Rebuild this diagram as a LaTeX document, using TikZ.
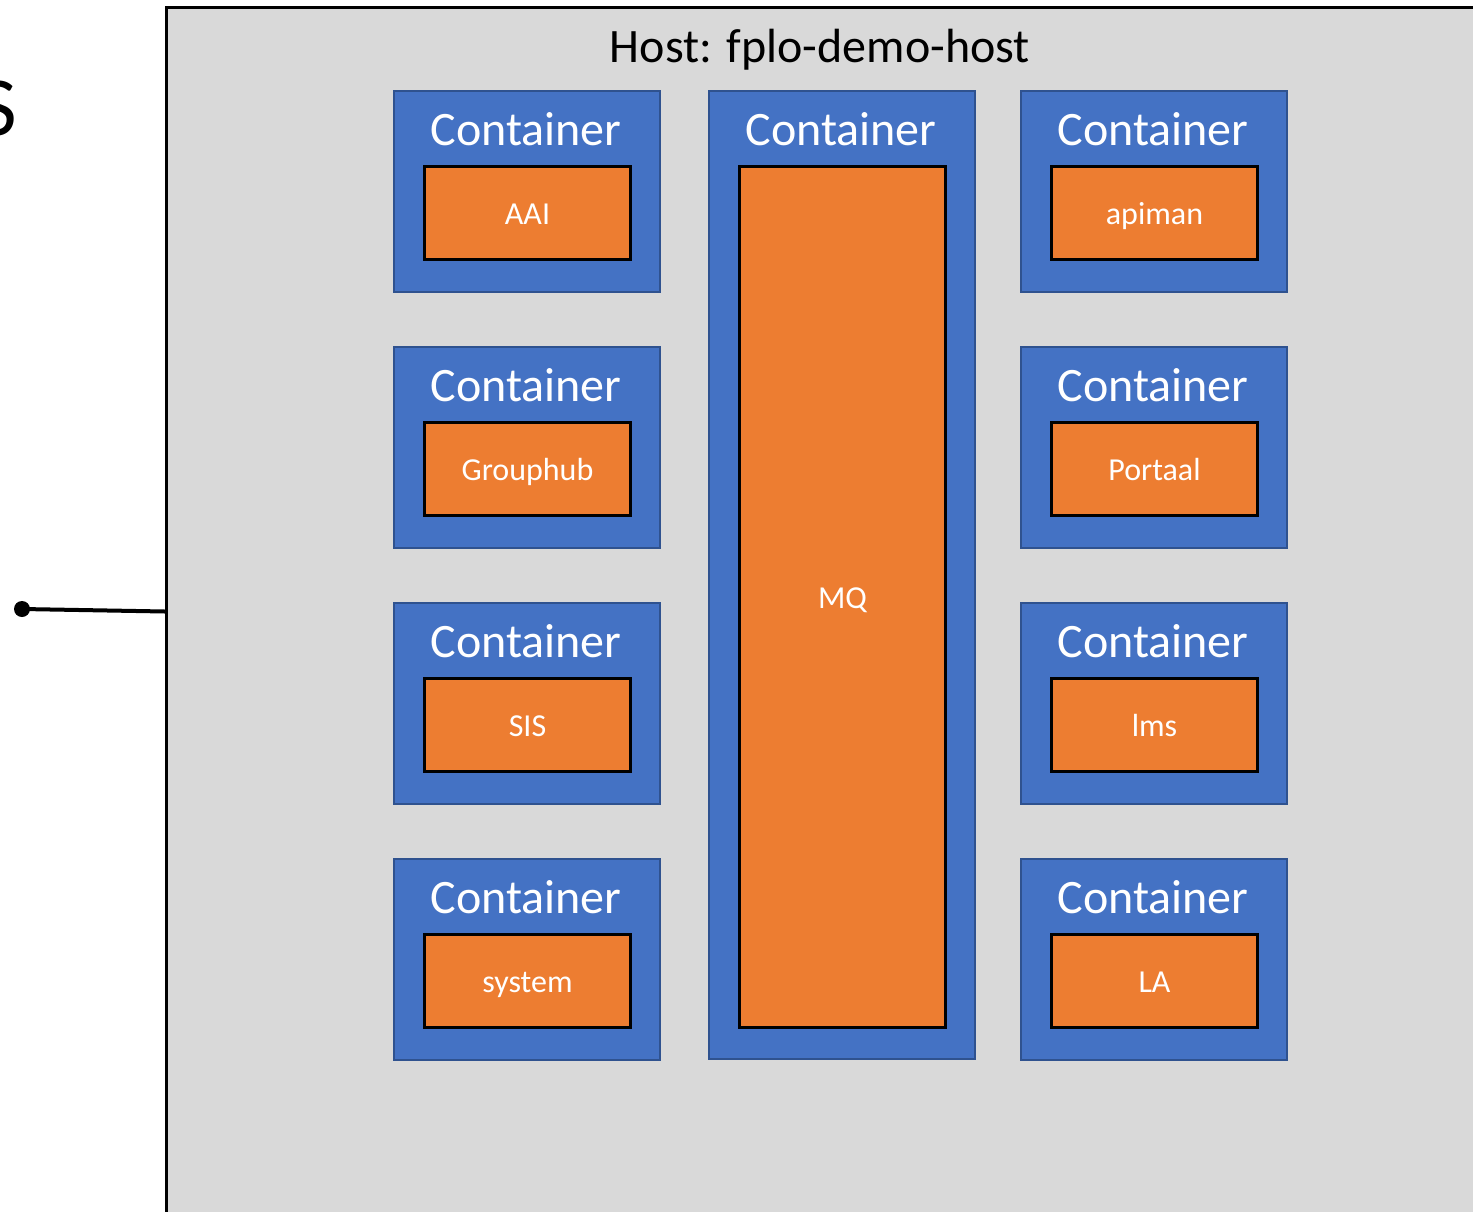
\documentclass[tikz,border=0pt]{standalone}
\usepackage{fontspec}
\setmainfont{Carlito}
\definecolor{hostgray}{HTML}{D9D9D9}
\definecolor{cblue}{HTML}{4472C4}
\definecolor{cblueline}{HTML}{2F528F}
\definecolor{corange}{HTML}{ED7D31}
\begin{document}
\begin{tikzpicture}[x=0.5pt,y=-0.5pt,
  cont/.style={draw=cblueline,line width=1pt,fill=cblue,anchor=north west,inner sep=0,minimum width=133pt,minimum height=100.5pt},
  svc/.style={draw=black,line width=1.5pt,fill=corange,anchor=north west,inner sep=0,minimum width=103pt,minimum height=46.5pt,text=white,font=\fontsize{16}{19}\selectfont,text height=14.4pt,text depth=2.9pt},
  ctitle/.style={text=white,font=\fontsize{24}{29}\selectfont,inner sep=0,anchor=base}]
\useasboundingbox (0,0) rectangle (1473,1211);
\clip (0,0) rectangle (1473,1211);
\fill[white] (0,0) rectangle (1473,1211);
% partial big letter at the left edge
\node[anchor=base east,inner sep=0,font=\fontsize{42}{50}\selectfont] (bigs) at (17,135) {S};
% host
\node[draw=black,line width=1.5pt,fill=hostgray,anchor=north west,inner sep=0,minimum width=665pt,minimum height=604pt] (host) at (165,6) {};
\node[anchor=base,inner sep=0,font=\fontsize{24}{29}\selectfont] (hosttitle) at (820,62) {Host: fplo-demo-host};
% connector
\node[circle,fill=black,inner sep=0,minimum size=8pt] (dot) at (22,609) {};
\draw[line width=2pt] (dot.center) -- (host.west);
% left column
\node[cont] (c1) at (393,90) {};
\node[ctitle] (t1) at (526,145) {Container};
\node[svc] (aai) at (423,165) {AAI};
\node[cont] (c2) at (393,346) {};
\node[ctitle] (t2) at (526,401) {Container};
\node[svc] (grouphub) at (423,421) {Grouphub};
\node[cont] (c3) at (393,602) {};
\node[ctitle] (t3) at (526,657) {Container};
\node[svc] (sis) at (423,677) {SIS};
\node[cont] (c4) at (393,858) {};
\node[ctitle] (t4) at (526,913) {Container};
\node[svc] (system) at (423,933) {system};
% middle column
\node[cont,minimum height=484pt] (c5) at (708,90) {};
\node[ctitle] (t5) at (841,145) {Container};
\node[svc,minimum height=430.5pt] (mq) at (738,165) {MQ};
% right column
\node[cont] (c6) at (1020,90) {};
\node[ctitle] (t6) at (1153,145) {Container};
\node[svc] (apiman) at (1050,165) {apiman};
\node[cont] (c7) at (1020,346) {};
\node[ctitle] (t7) at (1153,401) {Container};
\node[svc] (portaal) at (1050,421) {Portaal};
\node[cont] (c8) at (1020,602) {};
\node[ctitle] (t8) at (1153,657) {Container};
\node[svc] (lms) at (1050,677) {lms};
\node[cont] (c9) at (1020,858) {};
\node[ctitle] (t9) at (1153,913) {Container};
\node[svc] (la) at (1050,933) {LA};
\end{tikzpicture}
\end{document}
